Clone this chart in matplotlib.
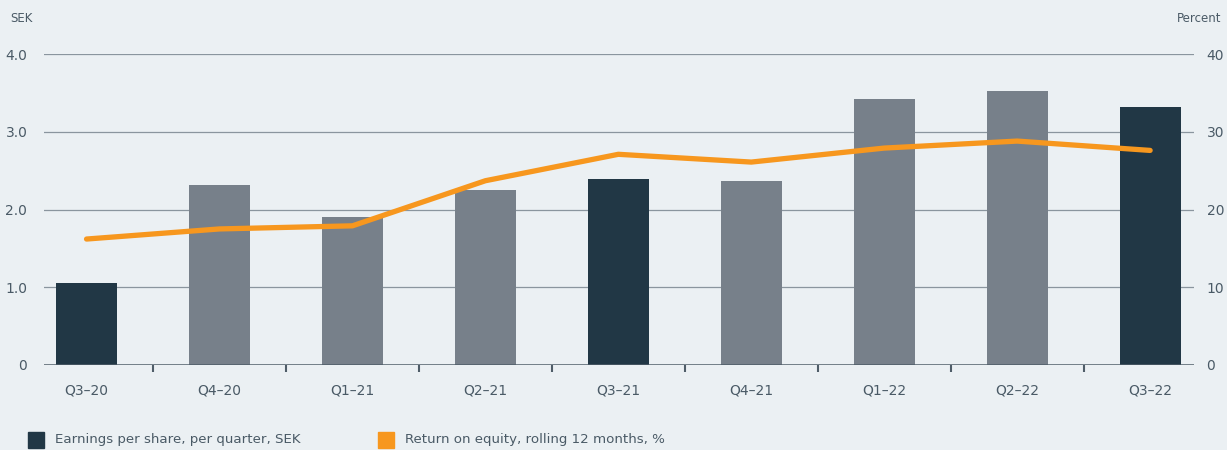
import matplotlib
matplotlib.use("Agg")
import matplotlib.pyplot as plt
import numpy as np

quarters = ["Q3\u201320", "Q4\u201320", "Q1\u201321", "Q2\u201321", "Q3\u201321",
            "Q4\u201321", "Q1\u201322", "Q2\u201322", "Q3\u201322"]
eps = [1.05, 2.32, 1.90, 2.25, 2.39, 2.37, 3.42, 3.52, 3.32]
roe = [16.2, 17.5, 17.9, 23.7, 27.1, 26.1, 27.9, 28.8, 27.6]
left_ticks = [0, 1.0, 2.0, 3.0, 4.0]
left_labels = ["0", "1.0", "2.0", "3.0", "4.0"]
right_ticks = [0, 10, 20, 30, 40]

plt.rcParams['font.family'] = ['DejaVu Sans']

BG = "#ebf0f3"
DARK = "#213745"
GRAY = "#77808a"
ORANGE = "#f7971e"
TXT = "#4a5a66"
GRID = "#8a959e"

fig = plt.figure(figsize=(12.27, 4.5), dpi=100, facecolor=BG)
ax = fig.add_axes([44/1227, 85/450, 1150/1227, (365-54)/450])
ax.set_facecolor(BG)
x = np.arange(len(quarters))
colors = [DARK if q.startswith("Q3") else GRAY for q in quarters]
ax.bar(x, eps, width=0.46, color=colors, zorder=2)
ax.set_ylim(0, 4)
ax.set_xlim(-0.32, 8.33)
ax.set_yticks(left_ticks)
ax.set_yticklabels(left_labels)
for t in left_ticks[1:]:
    ax.axhline(t, color=GRID, lw=0.9, zorder=1)
ax.axhline(0, color="#4f5d68", lw=1.8, zorder=3)
for s in ax.spines.values():
    s.set_visible(False)
ax.tick_params(axis='y', length=0, labelsize=10, colors=TXT, pad=12)
ax.set_xticks(x)
ax.set_xticklabels(quarters)
ax.tick_params(axis='x', which='major', length=0, labelsize=10, colors=TXT, pad=13)
ax.set_xticks(x[:-1] + 0.5, minor=True)
ax.tick_params(axis='x', which='minor', length=5, width=1.5, color="#4f5d68", direction='out')

ax2 = ax.twinx()
ax2.set_ylim(0, 40)
ax2.set_yticks(right_ticks)
ax2.set_yticklabels([str(v) for v in right_ticks])
for s in ax2.spines.values():
    s.set_visible(False)
ax2.tick_params(axis='y', length=0, labelsize=10, colors=TXT, pad=9)
ax2.plot(x, roe, color=ORANGE, lw=3.8, solid_capstyle='round', solid_joinstyle='round', zorder=4)

fig.text(10/1227, 1-18/450, "SEK", fontsize=8.5, color=TXT, va='center', ha='left')
fig.text(1221/1227, 1-18/450, "Percent", fontsize=8.5, color=TXT, va='center', ha='right')

# legend
ly = 1-440/450
fig.patches.append(plt.Rectangle((28/1227, ly-8/450), 16/1227, 16/450, transform=fig.transFigure, color=DARK))
fig.text(55/1227, ly, "Earnings per share, per quarter, SEK", fontsize=9.6, color=TXT, va='center', ha='left')
fig.patches.append(plt.Rectangle((378/1227, ly-8/450), 16/1227, 16/450, transform=fig.transFigure, color=ORANGE))
fig.text(405/1227, ly, "Return on equity, rolling 12 months, %", fontsize=9.6, color=TXT, va='center', ha='left')

fig.savefig("out.png", dpi=100, facecolor=BG)
